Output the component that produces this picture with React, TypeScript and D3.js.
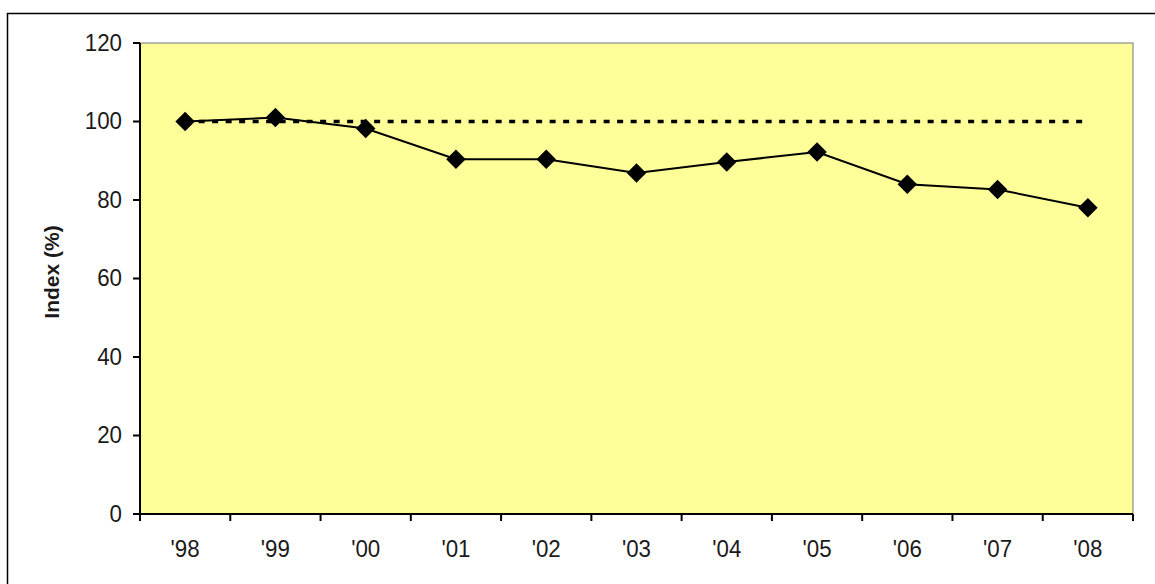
import React from "react";
import * as d3 from "d3";

const categories = ["'98", "'99", "'00", "'01", "'02", "'03", "'04", "'05", "'06", "'07", "'08"];
const indexValues = [100, 101, 98.2, 90.4, 90.4, 86.9, 89.7, 92.2, 84, 82.7, 78];
const referenceValue = 100;
const yTicks = [0, 20, 40, 60, 80, 100, 120];
const yLabel = "Index (%)";

const W = 1155;
const H = 584;
const plot = { left: 140, right: 1133, top: 43, bottom: 514 };
const FONT = "'Liberation Sans', Arial, sans-serif";

export default function App() {
  const x = d3.scaleBand<string>().domain(categories).range([plot.left, plot.right]).paddingInner(0).paddingOuter(0);
  const y = d3.scaleLinear().domain([0, 120]).range([plot.bottom, plot.top]);
  const cx = (c: string) => (x(c) as number) + x.bandwidth() / 2;

  const line = d3
    .line<number>()
    .x((_, i) => cx(categories[i]))
    .y((v) => y(v));

  const refLine = d3
    .line<string>()
    .x((c) => cx(c))
    .y(() => y(referenceValue));

  const diamond = d3.symbol().type(d3.symbolSquare).size(190)() as string;

  const bounds = [...categories.map((c) => x(c) as number), plot.right];

  return (
    <svg
      width={W}
      height={H}
      style={{ position: "absolute", left: 0, top: 0, background: "#fff" }}
      fontFamily={FONT}
    >
      <rect x={7.5} y={13.5} width={1300} height={700} fill="#fff" stroke="#000" strokeWidth={1.5} />
      <rect
        x={plot.left}
        y={plot.top}
        width={plot.right - plot.left}
        height={plot.bottom - plot.top}
        fill="#FFFF99"
        stroke="#8c8c8c"
        strokeWidth={1.2}
      />
      {/* y axis */}
      <line x1={plot.left} x2={plot.left} y1={plot.top} y2={plot.bottom} stroke="#000" strokeWidth={2} />
      {yTicks.map((t) => (
        <g key={t}>
          <line x1={plot.left - 7} x2={plot.left} y1={y(t)} y2={y(t)} stroke="#000" strokeWidth={2} />
          <text x={122} y={y(t)} dy="0.33em" textAnchor="end" fontSize={24} fill="#1a1a1a" transform={`translate(122,0) scale(0.93,1) translate(-122,0)`}>
            {t}
          </text>
        </g>
      ))}
      {/* x axis */}
      <line x1={plot.left - 7} x2={plot.right} y1={plot.bottom} y2={plot.bottom} stroke="#000" strokeWidth={2} />
      {bounds.map((b, i) => (
        <line key={i} x1={b} x2={b} y1={plot.bottom} y2={plot.bottom + 7} stroke="#000" strokeWidth={2} />
      ))}
      {categories.map((c) => (
        <text
          key={c}
          x={cx(c)}
          y={557}
          textAnchor="middle"
          fontSize={24}
          fill="#1a1a1a"
          transform={`translate(${cx(c)},0) scale(0.93,1) translate(${-cx(c)},0)`}
        >
          {c}
        </text>
      ))}
      <text
        transform={`translate(52,272) rotate(-90)`}
        textAnchor="middle"
        dy="0.35em"
        fontSize={21}
        fontWeight="bold"
        fill="#1a1a1a"
      >
        {yLabel}
      </text>
      {/* reference dotted line */}
      <path d={refLine(categories) as string} fill="none" stroke="#000" strokeWidth={3.5} strokeDasharray="6,7.5" />
      {/* data line */}
      <path d={line(indexValues) as string} fill="none" stroke="#000" strokeWidth={2} />
      {indexValues.map((v, i) => (
        <path
          key={i}
          d={diamond}
          transform={`translate(${cx(categories[i])},${y(v)}) rotate(45)`}
          fill="#000"
        />
      ))}
    </svg>
  );
}
